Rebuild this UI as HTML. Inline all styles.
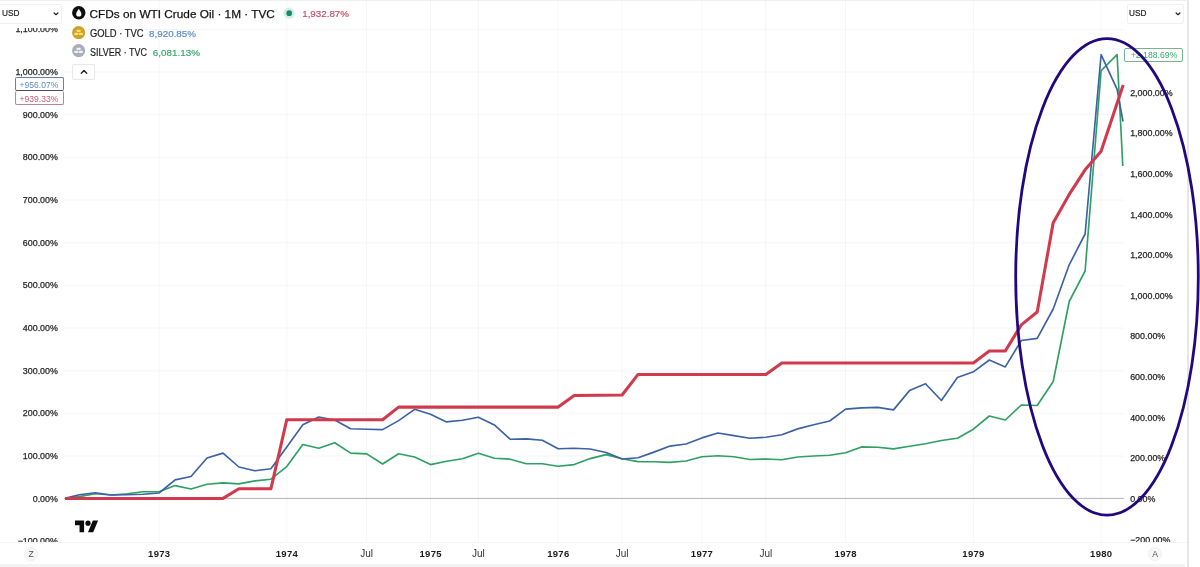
<!DOCTYPE html>
<html><head><meta charset="utf-8"><title>Chart</title>
<style>
*{box-sizing:border-box}
html,body{margin:0;padding:0;background:#fff}
body{width:1200px;height:567px;position:relative;overflow:hidden;font-family:"Liberation Sans",sans-serif;color:#222}
#chart{position:absolute;left:0;top:0}
.ll{position:absolute;left:0;width:57.9px;text-align:right;font-size:8.9px;line-height:12px;height:12px;color:#262626;white-space:nowrap;-webkit-text-stroke:0.25px #262626}
.rl{position:absolute;left:1130.2px;font-size:8.9px;line-height:12px;height:12px;color:#262626;white-space:nowrap;-webkit-text-stroke:0.25px #262626}
.tl{position:absolute;top:548px;width:40px;text-align:center;font-size:10px;line-height:12px;color:#333;white-space:nowrap}
.tl.b{font-weight:bold;color:#1a1a1a;font-size:9.5px;letter-spacing:0.3px;padding-left:0.3px}
#taxis{position:absolute;left:0;top:542.1px;width:1187px;height:21.5px;background:#fff;border-top:1px solid #f4f5f7}
#bottomline{position:absolute;left:0;top:564.2px;width:1185px;height:3px;background:#f3f3f3}
#rborder{position:absolute;left:1187.3px;top:0;width:1.7px;height:567px;background:#e6e6e6}
.usd{position:absolute;top:3.6px;height:20.6px;background:#fff;border:1px solid #f1f1f3;border-radius:2px;font-size:9.4px;line-height:16.4px;color:#222;-webkit-text-stroke:0.2px #222}
.usd span{display:inline-block;transform:scaleX(0.88);transform-origin:0 50%}
.chev{position:absolute}
.pbox{position:absolute;height:13.4px;border:1px solid;border-radius:2px;background:#fff;font-size:8.7px;line-height:11.6px;white-space:nowrap}
.leg{position:absolute;white-space:nowrap;transform-origin:0 50%}
.btn{position:absolute;width:14px;height:14px;border-radius:50%;background:#f7f7f7;border:1px solid #f1f1f1;font-size:8.6px;line-height:13.2px;text-align:center;color:#505050}
</style></head><body>
<svg id="chart" width="1200" height="567" viewBox="0 0 1200 567">
<g stroke="#f5f6f8" stroke-width="1"><line x1="159.1" y1="0" x2="159.1" y2="542"/><line x1="286.8" y1="0" x2="286.8" y2="542"/><line x1="366.7" y1="0" x2="366.7" y2="542"/><line x1="430.5" y1="0" x2="430.5" y2="542"/><line x1="478.4" y1="0" x2="478.4" y2="542"/><line x1="558.2" y1="0" x2="558.2" y2="542"/><line x1="622.1" y1="0" x2="622.1" y2="542"/><line x1="701.9" y1="0" x2="701.9" y2="542"/><line x1="765.8" y1="0" x2="765.8" y2="542"/><line x1="845.6" y1="0" x2="845.6" y2="542"/><line x1="973.4" y1="0" x2="973.4" y2="542"/><line x1="1101.1" y1="0" x2="1101.1" y2="542"/><line x1="64" y1="29.4" x2="1124" y2="29.4"/><line x1="64" y1="72.1" x2="1124" y2="72.1"/><line x1="64" y1="114.7" x2="1124" y2="114.7"/><line x1="64" y1="157.4" x2="1124" y2="157.4"/><line x1="64" y1="200.1" x2="1124" y2="200.1"/><line x1="64" y1="242.8" x2="1124" y2="242.8"/><line x1="64" y1="285.4" x2="1124" y2="285.4"/><line x1="64" y1="328.1" x2="1124" y2="328.1"/><line x1="64" y1="370.8" x2="1124" y2="370.8"/><line x1="64" y1="413.4" x2="1124" y2="413.4"/><line x1="64" y1="456.1" x2="1124" y2="456.1"/><line x1="64" y1="498.8" x2="1124" y2="498.8"/></g>
<line x1="64" y1="498.4" x2="1124" y2="498.4" stroke="#b4b4b4" stroke-width="1"/>
<polyline points="65,498.4 79.3,496.6 95.2,493.7 111.2,495 127.2,493.7 143.1,491.7 159.1,491.7 175.1,485.6 191.0,489 207.0,484.2 223.0,482.9 238.9,483.9 254.9,480.9 270.9,479.2 286.8,466.6 302.8,444.5 318.8,448.2 334.7,442.7 350.7,453.1 366.7,453.9 382.6,464 398.6,453.8 414.6,457 430.5,464.6 446.5,461.2 462.4,458.7 478.4,453.2 494.4,458.2 510.3,459.2 526.3,463.7 542.3,463.7 558.2,466.2 574.2,464.6 590.2,458.6 606.1,454.6 622.1,458.8 638.1,461.6 654.0,461.8 670.0,462.4 686.0,461 701.9,456.7 717.9,455.7 733.9,456.7 749.8,459.5 765.8,459 781.8,459.8 797.7,457 813.7,456 829.7,455.3 845.6,452.8 861.6,446.9 877.6,447.2 893.5,448.9 909.5,446.2 925.5,443.7 941.4,440.5 957.4,438.3 973.4,429.2 989.3,416 1005.3,420 1021.3,405 1037.2,405.5 1053.2,381.5 1069.2,301.5 1085.1,271 1101.1,70.7 1117.1,54.7 1122.8,166" fill="none" stroke="#2fa064" stroke-width="1.65" stroke-linejoin="round"/>
<polyline points="65,498.4 79.3,494.7 95.2,492.7 111.2,495 127.2,494.7 143.1,494.2 159.1,493 175.1,479.9 191.0,476.5 207.0,458.0 223.0,453.1 238.9,467 254.9,470.7 270.9,468.7 286.8,447 302.8,424.8 318.8,417 334.7,420 350.7,428.8 366.7,429.3 382.6,429.6 398.6,420.6 414.6,409.3 430.5,414.3 446.5,421.9 462.4,420.2 478.4,417.2 494.4,424.9 510.3,439.3 526.3,438.9 542.3,440.3 558.2,448.8 574.2,448.3 590.2,449 606.1,452.5 622.1,459 638.1,457.8 654.0,452.1 670.0,446.1 686.0,444 701.9,437.9 717.9,433 733.9,435.6 749.8,438.3 765.8,437.2 781.8,434.7 797.7,428.9 813.7,424.7 829.7,421 845.6,409.1 861.6,407.9 877.6,407.4 893.5,409.9 909.5,390.6 925.5,383.7 941.4,400.5 957.4,377.5 973.4,371.8 989.3,360 1005.3,366.9 1021.3,340.5 1037.2,338.4 1053.2,309 1069.2,264.8 1085.1,234 1101.1,54.7 1117.1,89.3 1123,121.5" fill="none" stroke="#3c62a4" stroke-width="1.65" stroke-linejoin="round"/>
<polyline points="65,498.4 223.0,498.4 238.9,488.8 270.9,488.8 286.8,419.7 382.6,419.7 398.6,407.1 558.2,407.1 574.2,395.4 622.1,395.0 638.1,374.4 765.8,374.4 781.8,363.0 973.4,363.0 989.3,351.0 1005.3,351.0 1021.3,324.9 1037.2,312.0 1053.2,222.8 1069.2,194.4 1085.1,169.8 1101.1,151.2 1123.2,85" fill="none" stroke="#d03a4c" stroke-width="3.05" stroke-linejoin="round" stroke-linecap="butt"/>
</svg>
<div class="ll" style="top:23.2px">1,100.00%</div>
<div class="ll" style="top:65.9px">1,000.00%</div>
<div class="ll" style="top:108.6px">900.00%</div>
<div class="ll" style="top:151.2px">800.00%</div>
<div class="ll" style="top:193.9px">700.00%</div>
<div class="ll" style="top:236.6px">600.00%</div>
<div class="ll" style="top:279.2px">500.00%</div>
<div class="ll" style="top:321.9px">400.00%</div>
<div class="ll" style="top:364.6px">300.00%</div>
<div class="ll" style="top:407.2px">200.00%</div>
<div class="ll" style="top:449.9px">100.00%</div>
<div class="ll" style="top:492.6px">0.00%</div>
<div class="ll" style="top:535.2px">−100.00%</div>
<div class="rl" style="top:86.5px">2,000.00%</div>
<div class="rl" style="top:127.2px">1,800.00%</div>
<div class="rl" style="top:167.8px">1,600.00%</div>
<div class="rl" style="top:208.5px">1,400.00%</div>
<div class="rl" style="top:249.1px">1,200.00%</div>
<div class="rl" style="top:289.8px">1,000.00%</div>
<div class="rl" style="top:330.4px">800.00%</div>
<div class="rl" style="top:371.1px">600.00%</div>
<div class="rl" style="top:411.7px">400.00%</div>
<div class="rl" style="top:452.4px">200.00%</div>
<div class="rl" style="top:493.0px">0.00%</div>
<div class="rl" style="top:533.7px">−200.00%</div>
<div id="taxis"></div>
<div class="tl b" style="left:139.1px">1973</div>
<div class="tl b" style="left:266.8px">1974</div>
<div class="tl" style="left:346.7px">Jul</div>
<div class="tl b" style="left:410.5px">1975</div>
<div class="tl" style="left:458.4px">Jul</div>
<div class="tl b" style="left:538.2px">1976</div>
<div class="tl" style="left:602.1px">Jul</div>
<div class="tl b" style="left:681.9px">1977</div>
<div class="tl" style="left:745.8px">Jul</div>
<div class="tl b" style="left:825.6px">1978</div>
<div class="tl b" style="left:953.4px">1979</div>
<div class="tl b" style="left:1081.1px">1980</div>
<div id="bottomline"></div>
<div id="rborder"></div>

<div style="position:absolute;left:0;top:0;width:63px;height:28.1px;background:#fff"></div>
<div class="usd" style="left:-1px;width:62.6px;padding-left:2.4px"><span>USD</span></div>
<svg class="chev" style="left:51.8px;top:10.9px" width="8" height="6" viewBox="0 0 8 6"><path d="M2.1 2 L4 3.7 L5.9 2" fill="none" stroke="#222" stroke-width="1.2" stroke-linecap="round" stroke-linejoin="round"/></svg>
<div class="usd" style="left:1127px;width:57px;padding-left:1.4px"><span>USD</span></div>
<svg class="chev" style="left:1173.8px;top:11.1px" width="8" height="6" viewBox="0 0 8 6"><path d="M2.1 2 L4 3.7 L5.9 2" fill="none" stroke="#222" stroke-width="1.2" stroke-linecap="round" stroke-linejoin="round"/></svg>

<!-- legend -->
<svg style="position:absolute;left:72.3px;top:6.4px" width="13.6" height="13.6" viewBox="0 0 15 15"><circle cx="7.5" cy="7.5" r="7.4" fill="#0e0e0e"/><path d="M7.5 2.9 C8.8 5 10.4 6.9 10.4 8.8 A2.9 2.9 0 0 1 4.6 8.8 C4.6 6.9 6.2 5 7.5 2.9 Z" fill="#fff"/></svg>
<div id="ttl" class="leg" style="left:89.6px;top:5.6px;-webkit-text-stroke:0.25px #141414;font-size:11.8px;line-height:17px;color:#141414">CFDs on WTI Crude Oil · 1M · TVC</div>
<svg style="position:absolute;left:282.5px;top:7.2px" width="12.4" height="12.4" viewBox="0 0 12.4 12.4"><circle cx="6.2" cy="6.2" r="5.6" fill="#d3efe8"/><circle cx="6.2" cy="6.2" r="2.85" fill="#168c6c"/></svg>
<div id="tv" class="leg" style="left:302.2px;top:6.5px;font-size:9.8px;line-height:14px;color:#c44f68;-webkit-text-stroke:0.2px #c44f68">1,932.87%</div>

<svg style="position:absolute;left:72.3px;top:25.6px" width="13.3" height="13.3" viewBox="0 0 14 14"><circle cx="7" cy="7" r="6.9" fill="#cda327"/><g fill="#ffe27a"><rect x="5" y="4" width="4" height="2.4" rx="0.5"/><rect x="2.6" y="7.2" width="4" height="2.4" rx="0.5"/><rect x="7.4" y="7.2" width="4" height="2.4" rx="0.5"/></g></svg>
<div id="g1" class="leg" style="left:89.6px;top:26.7px;transform:scaleX(0.94);-webkit-text-stroke:0.2px #222;font-size:10px;line-height:14px;color:#222">GOLD · TVC</div>
<div id="g2" class="leg" style="left:149px;top:26.7px;font-size:9.85px;line-height:14px;color:#5b8cc4;-webkit-text-stroke:0.2px #5b8cc4">8,920.85%</div>

<svg style="position:absolute;left:72.3px;top:44.4px" width="13.3" height="13.3" viewBox="0 0 14 14"><circle cx="7" cy="7" r="6.9" fill="#acadbb"/><g fill="#f1f1f5"><rect x="5" y="4" width="4" height="2.4" rx="0.5"/><rect x="2.6" y="7.2" width="4" height="2.4" rx="0.5"/><rect x="7.4" y="7.2" width="4" height="2.4" rx="0.5"/></g></svg>
<div id="s1" class="leg" style="left:89.6px;top:45.6px;transform:scaleX(0.895);-webkit-text-stroke:0.2px #222;font-size:10px;line-height:14px;color:#222">SILVER · TVC</div>
<div id="s2" class="leg" style="left:152.8px;top:45.6px;font-size:9.9px;line-height:14px;color:#3aa86f;-webkit-text-stroke:0.2px #3aa86f">6,081.13%</div>

<div style="position:absolute;left:72.2px;top:63.7px;width:22.6px;height:16px;border:1px solid #e9e9ec;border-radius:2px;background:#fff"></div>
<svg class="chev" style="left:79.5px;top:69px" width="8" height="6" viewBox="0 0 8 6"><path d="M1.3 4.3 L4 1.6 L6.7 4.3" fill="none" stroke="#222" stroke-width="1.4" stroke-linecap="round" stroke-linejoin="round"/></svg>

<!-- price boxes -->
<div class="pbox" style="left:15.2px;top:77.4px;width:48.9px;height:14px;line-height:14.8px;font-size:8.55px;border-color:#6f7ca6;border-bottom-color:#4d4b6c;color:#5b8cc4;padding-left:3.4px">+956.07%</div>
<div class="pbox" style="left:15.2px;top:91.4px;width:48.9px;height:14px;border-top-width:0;line-height:16.4px;font-size:8.55px;border-color:#b98791;border-top-color:#5a4a62;color:#cf5a70;padding-left:3.4px">+939.33%</div>
<div class="pbox" style="left:1123.8px;top:48.2px;width:59px;height:14px;line-height:12.2px;border-color:#79b294;color:#3aa86f;padding-left:6px;line-height:12.9px">+2,188.69%</div>

<!-- logo -->
<svg style="position:absolute;left:74.5px;top:517.5px" width="23.4" height="18.2" viewBox="0 0 36 28"><path d="M14 22H7V11H0V4h14v18z M28 22h-8l7.5-18h8L28 22z" fill="#0c0c0c"/><circle cx="20" cy="8" r="4" fill="#0c0c0c"/></svg>

<div class="btn" style="left:24.1px;top:546.6px">Z</div>
<div class="btn" style="left:1148.1px;top:547.1px">A</div>

<!-- ellipse annotation -->
<svg style="position:absolute;left:0;top:0;pointer-events:none" width="1200" height="567" viewBox="0 0 1200 567"><ellipse cx="1107" cy="276.9" rx="91.3" ry="238.3" fill="none" stroke="#22087e" stroke-width="2.8"/></svg>
<div style="position:absolute;left:0;top:0;width:1188px;height:1px;background:#f0f0f0"></div>
</body></html>
